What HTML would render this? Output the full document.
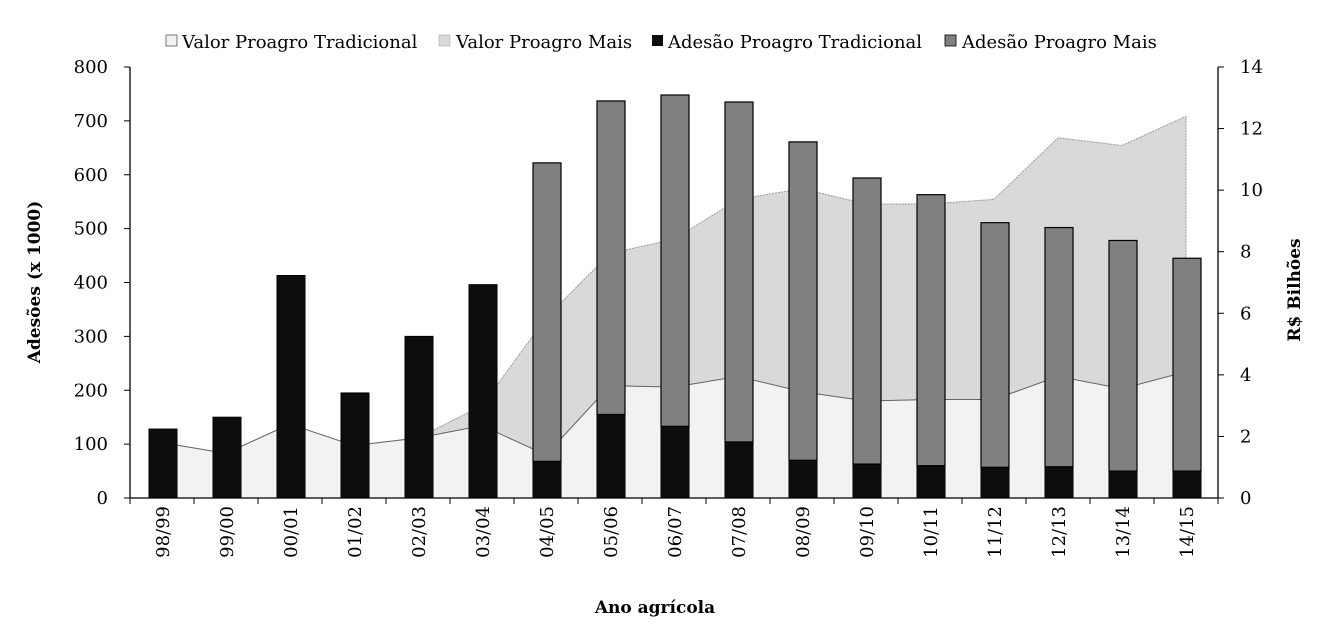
<!DOCTYPE html>
<html><head><meta charset="utf-8"><style>
body{margin:0;background:#fff}
svg{font-family:"DejaVu Serif","Liberation Serif",serif;display:block}
</style></head><body>
<svg id="chart" width="1322" height="632">
<g id="legend">
<g><rect x="166" y="35" width="11" height="11" fill="#f2f2f2" stroke="#555" stroke-width="0.8"/><text x="182" y="48" font-size="18">Valor Proagro Tradicional</text></g>
<g><rect x="439" y="35" width="11" height="11" fill="#d9d9d9" stroke="#999" stroke-width="0.5"/><text x="456" y="48" font-size="18">Valor Proagro Mais</text></g>
<g><rect x="652" y="35" width="11" height="11" fill="#0d0d0d"/><text x="668" y="48" font-size="18">Adesão  Proagro Tradicional</text></g>
<g><rect x="945" y="35" width="11" height="11" fill="#808080" stroke="#000" stroke-width="0.8"/><text x="962" y="48" font-size="18">Adesão Proagro Mais</text></g>
</g>
<text x="40" y="282" font-size="17" font-weight="bold" text-anchor="middle" transform="rotate(-90 40 282)">Adesões (x 1000)</text>
<text x="1300" y="290" font-size="17" font-weight="bold" text-anchor="middle" transform="rotate(-90 1300 290)">R$ Bilhões</text>
<text x="655" y="613" font-size="17" font-weight="bold" text-anchor="middle">Ano agrícola</text>
</svg>
<script>
const categories=["98/99","99/00","00/01","01/02","02/03","03/04","04/05","05/06","06/07","07/08","08/09","09/10","10/11","11/12","12/13","13/14","14/15"];
const adesaoTradicional=[128,150,413,195,300,396,68,155,133,104,70,63,60,57,58,50,50];
const adesaoMais=[0,0,0,0,0,0,554,582,615,631,591,531,503,454,444,428,395];
const valorTradicional=[1.8,1.45,2.4,1.7,1.95,2.35,1.4,3.65,3.6,3.95,3.45,3.15,3.2,3.2,3.95,3.55,4.1];
const valorMais=[0,0,0,0,0,0.65,4.45,4.3,4.8,5.75,6.6,6.4,6.35,6.5,7.75,7.9,8.3];
const leftTicks=[0,100,200,300,400,500,600,700,800];
const rightTicks=[0,2,4,6,8,10,12,14];
const NS="http://www.w3.org/2000/svg";
const svg=document.getElementById("chart");
const X0=130,X1=1218,Y0=498,Y1=67;
const bw=(X1-X0)/categories.length;
const xc=i=>X0+bw*(i+0.5);
const yL=v=>Y0-(v/800)*(Y0-Y1);
const yR=v=>Y0-(v/14)*(Y0-Y1);
function mk(t,a,p){const e=document.createElementNS(NS,t);for(const k in a)e.setAttribute(k,a[k]);(p||svg).appendChild(e);return e;}
const totalPts=valorTradicional.map((v,i)=>[xc(i),yR(v+valorMais[i])]);
const tradPts=valorTradicional.map((v,i)=>[xc(i),yR(v)]);
const poly=p=>p.map(q=>q.join(",")).join(" ");
const aM=mk("polygon",{points:poly(totalPts)+" "+poly(tradPts.slice().reverse()),fill:"#d9d9d9",stroke:"#999","stroke-width":1,"stroke-dasharray":"2 1"});


const aT=mk("polygon",{points:poly(tradPts)+" "+xc(categories.length-1)+","+Y0+" "+xc(0)+","+Y0,fill:"#f2f2f2",stroke:"#666","stroke-width":1});


categories.forEach((c,i)=>{
  const x=xc(i)-13;
  const b=mk("rect",{x:x,y:yL(adesaoTradicional[i]),width:28,height:Y0-yL(adesaoTradicional[i]),fill:"#0d0d0d",stroke:"#000","stroke-width":1});
  
  
  if(adesaoMais[i]>0){
    const top=yL(adesaoTradicional[i]+adesaoMais[i]);
    const m=mk("rect",{x:x,y:top,width:28,height:yL(adesaoTradicional[i])-top,fill:"#808080",stroke:"#000","stroke-width":1.2});
    
    
  }
  const t=mk("text",{x:0,y:0,"font-size":18,"text-anchor":"end",transform:`translate(${xc(i)+7},506) rotate(-90)`});
  t.textContent=c;
  
  
});
mk("line",{x1:X0,y1:Y1,x2:X0,y2:Y0,stroke:"#000","stroke-width":1.3});
mk("line",{x1:X1,y1:Y1,x2:X1,y2:Y0,stroke:"#000","stroke-width":1.3});
mk("line",{x1:X0,y1:Y0,x2:X1,y2:Y0,stroke:"#000","stroke-width":1.3});
for(let i=0;i<=categories.length;i++)mk("line",{x1:X0+bw*i,y1:Y0,x2:X0+bw*i,y2:Y0+6,stroke:"#000"});
leftTicks.forEach(v=>{
  mk("line",{x1:X0-6,y1:yL(v),x2:X0,y2:yL(v),stroke:"#000"});
  const t=mk("text",{x:X0-22,y:yL(v)+6,"font-size":18,"text-anchor":"end"});
  t.textContent=v;
  
  
});
rightTicks.forEach(v=>{
  mk("line",{x1:X1,y1:yR(v),x2:X1+6,y2:yR(v),stroke:"#000"});
  const t=mk("text",{x:X1+22,y:yR(v)+6,"font-size":18});
  t.textContent=v;
  
  
});
</script>
</body></html>
